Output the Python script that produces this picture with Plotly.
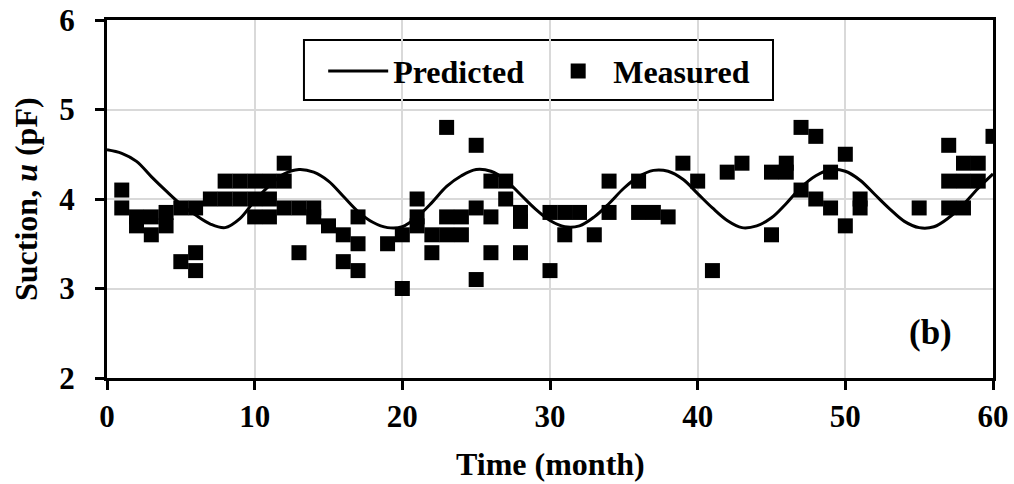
import plotly.graph_objects as go

# Predicted curve (monthly)
pred_x = list(range(0, 61))
pred_y = [4.55, 4.51, 4.42, 4.25, 4.09, 3.94, 3.82, 3.72, 3.68, 3.78,
          3.98, 4.15, 4.28, 4.33, 4.30, 4.20, 4.03, 3.86, 3.74, 3.68,
          3.69, 3.80, 3.96, 4.14, 4.26, 4.33, 4.31, 4.21, 4.05, 3.89,
          3.76, 3.69, 3.70, 3.80, 3.95, 4.12, 4.25, 4.32, 4.31, 4.22,
          4.06, 3.90, 3.76, 3.68, 3.70, 3.79, 3.95, 4.13, 4.26, 4.33,
          4.31, 4.21, 4.05, 3.89, 3.75, 3.68, 3.69, 3.79, 3.94, 4.12,
          4.28]

# Measured points
meas_x = [1, 1, 2, 2, 3, 3, 4, 4, 5, 5, 6, 6, 6, 7, 8, 8, 9, 9,
          10, 10, 10, 11, 11, 11, 12, 12, 12, 13, 13, 14, 14, 15,
          16, 16, 17, 17, 17, 19, 20, 20, 21, 21, 21, 22, 22,
          23, 23, 23, 24, 24, 25, 25, 25, 26, 26, 26, 27, 27,
          28, 28, 28, 30, 30, 31, 31, 32, 33, 34, 34, 36, 36, 37, 38,
          39, 40, 41, 42, 43, 45, 45, 46, 46, 47, 47, 48, 48, 49, 49,
          50, 50, 51, 51, 55, 57, 57, 57, 58, 58, 58, 59, 59, 60]
meas_y = [4.1, 3.9, 3.8, 3.7, 3.8, 3.6, 3.85, 3.7, 3.9, 3.3, 3.9, 3.4, 3.2, 4.0, 4.2, 4.0, 4.2, 4.0,
          4.2, 4.0, 3.8, 4.2, 4.0, 3.8, 4.4, 4.2, 3.9, 3.9, 3.4, 3.9, 3.8, 3.7,
          3.6, 3.3, 3.8, 3.5, 3.2, 3.5, 3.6, 3.0, 4.0, 3.8, 3.7, 3.6, 3.4,
          4.8, 3.8, 3.6, 3.8, 3.6, 4.6, 3.9, 3.1, 4.2, 3.8, 3.4, 4.2, 4.0,
          3.85, 3.75, 3.4, 3.85, 3.2, 3.85, 3.6, 3.85, 3.6, 4.2, 3.85, 4.2, 3.85, 3.85, 3.8,
          4.4, 4.2, 3.2, 4.3, 4.4, 4.3, 3.6, 4.4, 4.3, 4.8, 4.1, 4.7, 4.0, 4.3, 3.9,
          4.5, 3.7, 4.0, 3.9, 3.9, 4.6, 4.2, 3.9, 4.4, 4.2, 3.9, 4.4, 4.2, 4.7]

x_ticks = [0, 10, 20, 30, 40, 50, 60]
y_ticks = [2, 3, 4, 5, 6]

FONT = "Liberation Serif, Times New Roman, serif"

fig = go.Figure()
fig.add_trace(go.Scatter(x=pred_x, y=pred_y, mode="lines", name="Predicted",
                         line=dict(color="black", width=3, shape="spline")))
fig.add_trace(go.Scatter(x=meas_x, y=meas_y, mode="markers", name="Measured",
                         marker=dict(symbol="square", size=15, color="black")))

axis_common = dict(
    showline=True, linecolor="black", linewidth=3, mirror=True,
    ticks="outside", ticklen=9, tickwidth=2.5, tickcolor="black",
    showgrid=True, gridcolor="#d9d9d9", gridwidth=1.5, zeroline=False,
    automargin=False,
    tickfont=dict(family=FONT, size=31, color="black", weight="bold"),
)

fig.update_xaxes(range=[0, 60], tickvals=x_ticks, ticklabelstandoff=0, **axis_common)
fig.update_yaxes(range=[2, 6], tickvals=y_ticks, ticklabelstandoff=14, **axis_common)

fig.update_layout(
    width=1014, height=484,
    margin=dict(l=107, r=21, t=20, b=106),
    plot_bgcolor="white", paper_bgcolor="white",
    showlegend=True,
    legend=dict(orientation="h", x=0.244, xanchor="left", y=0.857, yanchor="middle",
                borderwidth=0, bgcolor="rgba(0,0,0,0)",
                font=dict(family=FONT, size=32, color="black", weight="bold"),
                itemwidth=60, entrywidth=145),
    shapes=[
        dict(type="rect", xref="paper", yref="paper", x0=0.2223, x1=0.7517,
             y0=0.7765, y1=0.944, line=dict(color="black", width=2),
             fillcolor="white", layer="between"),
    ],
    annotations=[
        dict(text="Time (month)", xref="paper", yref="paper", x=0.5, y=0,
             yshift=-86, xanchor="center", yanchor="middle", showarrow=False,
             font=dict(family=FONT, size=32, color="black", weight="bold")),
        dict(text="Suction, <i>u</i> (pF)", xref="paper", yref="paper", x=0, y=0.5,
             xshift=-81, textangle=-90, xanchor="center", yanchor="middle", showarrow=False,
             font=dict(family=FONT, size=32, color="black", weight="bold")),
        dict(text="(b)", xref="paper", yref="paper", x=1, y=0,
             xshift=-63, yshift=46, xanchor="center", yanchor="middle", showarrow=False,
             font=dict(family=FONT, size=35, color="black", weight="bold")),
    ],
)

fig.write_html("out.html")
